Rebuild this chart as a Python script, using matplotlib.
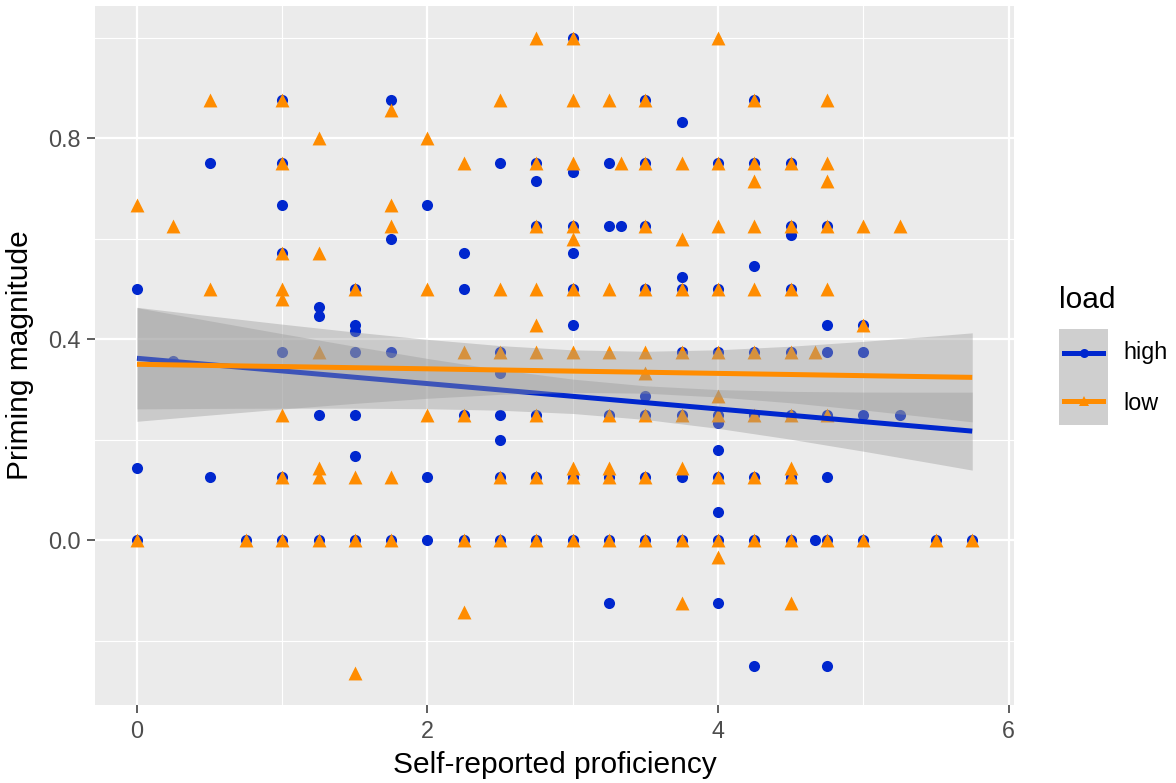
import matplotlib
matplotlib.use("Agg")
import matplotlib.pyplot as plt
from matplotlib.patches import Rectangle
from matplotlib.lines import Line2D
import numpy as np

plt.rcParams['font.family'] = ['Liberation Sans', 'DejaVu Sans']

# ---------------- data ----------------
x_high = [0, 0, 0,
          0.25,
          0.5, 0.5,
          0.75,
          1, 1, 1, 1, 1, 1, 1,
          1.25, 1.25, 1.25, 1.25,
          1.5, 1.5, 1.5, 1.5, 1.5, 1.5, 1.5,
          1.75, 1.75, 1.75, 1.75,
          2, 2, 2,
          2.25, 2.25, 2.25, 2.25,
          2.5, 2.5, 2.5, 2.5, 2.5, 2.5, 2.5,
          2.75, 2.75, 2.75, 2.75, 2.75, 2.75,
          3, 3, 3, 3, 3, 3, 3, 3,
          3.25, 3.25, 3.25, 3.25, 3.25, 3.25,
          3.333,
          3.5, 3.5, 3.5, 3.5, 3.5, 3.5, 3.5, 3.5,
          3.75, 3.75, 3.75, 3.75, 3.75, 3.75, 3.75,
          4, 4, 4, 4, 4, 4, 4, 4, 4, 4,
          4.25, 4.25, 4.25, 4.25, 4.25, 4.25, 4.25, 4.25,
          4.5, 4.5, 4.5, 4.5, 4.5, 4.5, 4.5, 4.5,
          4.667,
          4.75, 4.75, 4.75, 4.75, 4.75, 4.75, 4.75,
          5, 5, 5, 5,
          5.25,
          5.5,
          5.75]
y_high = [0.5, 0.143, 0,
          0.357,
          0.75, 0.125,
          0,
          0.875, 0.75, 0.667, 0.571, 0.375, 0.125, 0,
          0.464, 0.446, 0.25, 0,
          0.5, 0.428, 0.417, 0.375, 0.25, 0.167, 0,
          0.875, 0.6, 0.375, 0,
          0.667, 0.125, 0,
          0.571, 0.5, 0.25, 0,
          0.75, 0.375, 0.333, 0.25, 0.2, 0.125, 0,
          0.75, 0.714, 0.625, 0.25, 0.125, 0,
          1.0, 0.733, 0.625, 0.571, 0.5, 0.428, 0.125, 0,
          0.75, 0.625, 0.25, 0.125, 0, -0.125,
          0.625,
          0.875, 0.75, 0.625, 0.5, 0.286, 0.25, 0.125, 0,
          0.833, 0.524, 0.5, 0.375, 0.25, 0.125, 0,
          0.75, 0.5, 0.375, 0.25, 0.233, 0.179, 0.125, 0.056, 0, -0.125,
          0.875, 0.75, 0.545, 0.375, 0.25, 0.125, 0, -0.25,
          0.75, 0.625, 0.607, 0.5, 0.375, 0.25, 0.125, 0,
          0,
          0.625, 0.428, 0.375, 0.25, 0.125, 0, -0.25,
          0.428, 0.375, 0.25, 0,
          0.25,
          0,
          0]

x_low = [0, 0,
         0.25,
         0.5, 0.5,
         0.75,
         1, 1, 1, 1, 1, 1, 1, 1,
         1.25, 1.25, 1.25, 1.25, 1.25, 1.25,
         1.5, 1.5, 1.5, 1.5,
         1.75, 1.75, 1.75, 1.75, 1.75,
         2, 2, 2,
         2.25, 2.25, 2.25, 2.25, 2.25,
         2.5, 2.5, 2.5, 2.5, 2.5,
         2.75, 2.75, 2.75, 2.75, 2.75, 2.75, 2.75, 2.75, 2.75,
         3, 3, 3, 3, 3, 3, 3, 3, 3, 3,
         3.25, 3.25, 3.25, 3.25, 3.25, 3.25, 3.25,
         3.333,
         3.5, 3.5, 3.5, 3.5, 3.5, 3.5, 3.5, 3.5, 3.5,
         3.75, 3.75, 3.75, 3.75, 3.75, 3.75, 3.75, 3.75,
         4, 4, 4, 4, 4, 4, 4, 4, 4, 4,
         4.25, 4.25, 4.25, 4.25, 4.25, 4.25, 4.25, 4.25, 4.25,
         4.5, 4.5, 4.5, 4.5, 4.5, 4.5, 4.5, 4.5, 4.5,
         4.667,
         4.75, 4.75, 4.75, 4.75, 4.75, 4.75, 4.75,
         5, 5, 5,
         5.25,
         5.5,
         5.75]
y_low = [0.667, 0,
         0.625,
         0.875, 0.5,
         0,
         0.875, 0.75, 0.571, 0.5, 0.48, 0.25, 0.125, 0,
         0.8, 0.571, 0.375, 0.143, 0.125, 0,
         0.5, 0.125, 0, -0.265,
         0.857, 0.667, 0.625, 0.125, 0,
         0.8, 0.5, 0.25,
         0.75, 0.375, 0.25, 0, -0.143,
         0.875, 0.5, 0.375, 0.125, 0,
         1.0, 0.75, 0.625, 0.5, 0.429, 0.375, 0.25, 0.125, 0,
         1.0, 0.875, 0.75, 0.625, 0.6, 0.5, 0.375, 0.143, 0.125, 0,
         0.875, 0.5, 0.375, 0.25, 0.143, 0.125, 0,
         0.75,
         0.875, 0.75, 0.625, 0.5, 0.375, 0.333, 0.25, 0.125, 0,
         0.75, 0.6, 0.5, 0.375, 0.25, 0.143, 0, -0.125,
         1.0, 0.75, 0.625, 0.5, 0.375, 0.286, 0.25, 0.125, 0, -0.033,
         0.875, 0.75, 0.714, 0.625, 0.5, 0.375, 0.25, 0.125, 0,
         0.75, 0.625, 0.5, 0.375, 0.25, 0.143, 0.125, 0, -0.125,
         0.375,
         0.875, 0.75, 0.714, 0.625, 0.5, 0.25, 0,
         0.625, 0.428, 0,
         0.625,
         0,
         0]

# smoothed fit (lm) and confidence band
smooth_x = [0, 0.5, 1, 1.5, 2, 2.5, 3, 3.5, 4, 4.5, 5, 5.5, 5.75]
fit_high = [0.3620, 0.3494, 0.3368, 0.3242, 0.3116, 0.2990, 0.2863,
            0.2737, 0.2611, 0.2485, 0.2359, 0.2233, 0.2170]
lo_high = [0.2613, 0.2622, 0.2627, 0.2626, 0.2616, 0.2586, 0.2521,
           0.2402, 0.2225, 0.2009, 0.1771, 0.1521, 0.1394]
hi_high = [0.4627, 0.4366, 0.4109, 0.3858, 0.3616, 0.3394, 0.3205,
           0.3072, 0.2997, 0.2961, 0.2947, 0.2945, 0.2946]
fit_low = [0.3500, 0.3477, 0.3455, 0.3432, 0.3410, 0.3387, 0.3364,
           0.3342, 0.3319, 0.3297, 0.3274, 0.3251, 0.3240]
lo_low = [0.2366, 0.2490, 0.2611, 0.2723, 0.2824, 0.2902, 0.2941,
          0.2925, 0.2850, 0.2734, 0.2592, 0.2435, 0.2354]
hi_low = [0.4634, 0.4464, 0.4299, 0.4141, 0.3996, 0.3872, 0.3787,
          0.3759, 0.3788, 0.3860, 0.3956, 0.4067, 0.4126]

groups = ["high", "low"]
x_ticks = [0, 2, 4, 6]
y_ticks = [0.0, 0.4, 0.8]
y_ticklabels = ["0.0", "0.4", "0.8"]

# ---------------- styling ----------------
BLUE = "#0027CE"
ORANGE = "#FF8C00"
PANEL = "#EBEBEB"
RIBBON = "#999999"

fig = plt.figure(figsize=(11.76, 7.83), dpi=100)
ax = fig.add_axes([95.2 / 1176, 78 / 783, (1014 - 95.2) / 1176, (777 - 78) / 783])
ax.set_facecolor(PANEL)
for s in ax.spines.values():
    s.set_visible(False)

ax.set_xlim(-0.2875, 6.0375)
ax.set_ylim(-0.328, 1.063)

ax.set_xticks(x_ticks)
ax.set_xticks([1, 3, 5], minor=True)
ax.set_yticks(y_ticks)
ax.set_yticklabels(y_ticklabels)
ax.set_yticks([-0.2, 0.2, 0.6, 1.0], minor=True)
ax.grid(which="major", color="white", linewidth=1.6)
ax.grid(which="minor", color="white", linewidth=0.8)
ax.set_axisbelow(True)
ax.tick_params(which="major", length=5.5, width=1.1, color="#333333",
               labelsize=16.8, labelcolor="#4D4D4D", pad=5)
ax.tick_params(which="minor", length=0)

# points
ax.scatter(x_high, y_high, s=64, marker="o", color=BLUE, linewidths=0, zorder=2)
ax.scatter(x_low, y_low, s=100, marker="^", color=ORANGE, linewidths=0, zorder=2.1)

# smooths: ribbon then line for each group
ax.fill_between(smooth_x, lo_high, hi_high, color=RIBBON, alpha=0.4, linewidth=0, zorder=3)
ax.plot(smooth_x, fit_high, color=BLUE, linewidth=3.6, solid_capstyle="butt", zorder=4)
ax.fill_between(smooth_x, lo_low, hi_low, color=RIBBON, alpha=0.4, linewidth=0, zorder=5)
ax.plot(smooth_x, fit_low, color=ORANGE, linewidth=3.6, solid_capstyle="butt", zorder=6)

ax.set_xlabel("Self-reported proficiency", fontsize=21.5, color="black", labelpad=6)
ax.set_ylabel("Priming magnitude", fontsize=21.5, color="black", labelpad=10)

# ---------------- legend (ggplot style) ----------------
lax = fig.add_axes([1059 / 1176, (783 - 425) / 783, 49 / 1176, 96 / 783])
lax.set_xlim(0, 1)
lax.set_ylim(0, 2)
lax.axis("off")
key_colors = [BLUE, ORANGE]
key_markers = ["o", "^"]
for i, (g, c, m) in enumerate(zip(groups, key_colors, key_markers)):
    yc = 1.5 - i
    lax.add_patch(Rectangle((0, yc - 0.5), 1, 1, facecolor="#CFCFCF", edgecolor="none"))
    lax.add_line(Line2D([0.1, 0.9], [yc, yc], color=c, linewidth=3.6, marker=None))
    lax.plot([0.5], [yc], marker=m, markersize=6.5, color=c, markeredgewidth=0)
    fig.text(1123 / 1176, 1 - (353 + 50 * i) / 783, g, fontsize=16.8,
             color="black", va="center", ha="left")
fig.text(1059 / 1176, 1 - 300 / 783, "load", fontsize=21.5, color="black",
         va="center", ha="left")

fig.savefig("out.png", dpi=100, facecolor="white")
